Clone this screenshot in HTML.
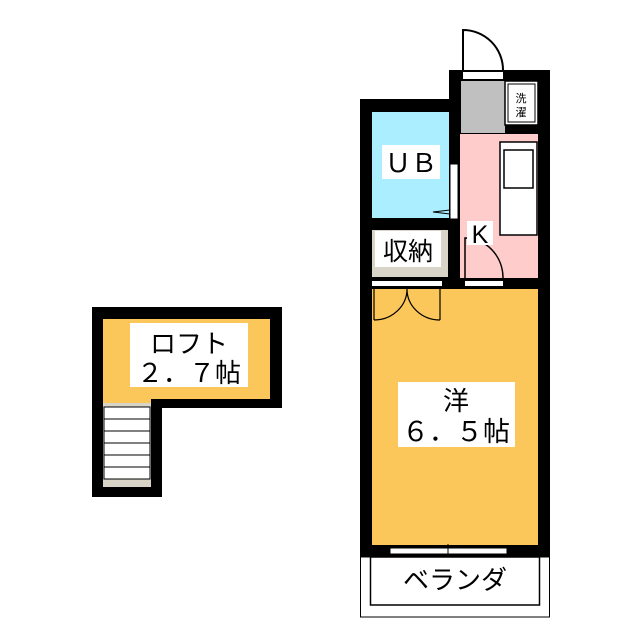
<!DOCTYPE html>
<html><head><meta charset="utf-8"><style>
html,body{margin:0;padding:0;background:#fff;}
svg{display:block}
text{font-family:"Liberation Sans","Noto Sans CJK JP",sans-serif;fill:#000}
</style></head><body>
<svg width="640" height="640" viewBox="0 0 640 640" xmlns="http://www.w3.org/2000/svg">
<!-- Loft -->
<path d="M92 307 H282 V408 H162 V497 H92 Z" fill="#000"/>
<rect x="103" y="319" width="167" height="80" fill="#fcc75a"/>
<rect x="103" y="399" width="48" height="5" fill="#fcc75a"/>
<rect x="103" y="403" width="48" height="84" fill="#d8d4c8"/>
<g fill="#fff" stroke="#000" stroke-width="1">
<rect x="104" y="407" width="46" height="12"/><rect x="104" y="419" width="46" height="12"/>
<rect x="104" y="431" width="46" height="12"/><rect x="104" y="443" width="46" height="12"/>
<rect x="104" y="455" width="46" height="12"/><rect x="104" y="467" width="46" height="12"/>
</g>
<rect x="130" y="323" width="118" height="64" fill="#fff"/>
<text x="189" y="353" font-size="26" text-anchor="middle">ロフト</text>
<text x="189" y="382" font-size="26" text-anchor="middle">２．７帖</text>

<!-- Main walls -->
<rect x="360" y="99" width="100" height="190" fill="#000"/>
<rect x="449" y="70" width="101" height="219" fill="#000"/>
<rect x="360" y="280" width="190" height="277" fill="#000"/>
<!-- door -->
<path d="M463 70 V30 A40 40 0 0 1 503 70" fill="#fff" stroke="#000" stroke-width="2"/>
<rect x="463" y="72" width="40" height="7" fill="#fff"/>
<!-- gray -->
<rect x="461" y="81" width="44" height="52" fill="#c0c0c0"/>
<rect x="505" y="81" width="33" height="44" fill="#fff" stroke="#000" stroke-width="1.5"/>
<rect x="508" y="84" width="27" height="38" fill="#fff" stroke="#000" stroke-width="1"/>
<text x="521" y="102" font-size="11" text-anchor="middle">洗</text>
<text x="521" y="116" font-size="11" text-anchor="middle">濯</text>
<!-- K -->
<rect x="460" y="134" width="78" height="144" fill="#ffcccc"/>
<rect x="500" y="142" width="37" height="93" fill="#fff" stroke="#000" stroke-width="1.5"/>
<rect x="504" y="150" width="29" height="38" fill="#fff" stroke="#000" stroke-width="1.5"/>
<path d="M465 278 V238 A38 40 0 0 1 503 278" fill="none" stroke="#000" stroke-width="1.5"/>
<rect x="467" y="221" width="26" height="24" fill="#fff"/>
<text x="480" y="243" font-size="25" text-anchor="middle">K</text>
<!-- UB -->
<rect x="372" y="112" width="77" height="106" fill="#aaeeff"/>
<rect x="450" y="164" width="8" height="55" fill="#fff" stroke="#000" stroke-width="1"/>
<path d="M450 210 L433 212 L450 214" fill="none" stroke="#000" stroke-width="1"/>
<rect x="382" y="145" width="58" height="34" fill="#fff"/>
<text x="411" y="172" font-size="26" text-anchor="middle">ＵＢ</text>
<!-- 収納 -->
<rect x="372" y="230" width="76" height="47" fill="#d8d4c8"/>
<rect x="375" y="231" width="66" height="36" fill="#fff"/>
<text x="408" y="260" font-size="25" text-anchor="middle">収納</text>
<!-- openings -->
<rect x="372" y="281" width="70" height="5" fill="#fff"/>
<rect x="465" y="281" width="38" height="5" fill="#fff"/>
<!-- Room -->
<rect x="372" y="289" width="166" height="256" fill="#fcc75a"/>
<path d="M374 289 V320 M440 289 V320 M374 320 A33 31 0 0 0 407 289 A33 31 0 0 0 440 320" fill="none" stroke="#000" stroke-width="1.2"/>
<rect x="398" y="382" width="117" height="65" fill="#fff"/>
<text x="456" y="410" font-size="26" text-anchor="middle">洋</text>
<text x="456" y="441" font-size="27" text-anchor="middle">６．５帖</text>
<!-- window -->
<rect x="390" y="548" width="117" height="6" fill="#fff" stroke="#000" stroke-width="1"/>
<line x1="448" y1="544" x2="448" y2="557" stroke="#000" stroke-width="1"/>
<!-- balcony -->
<rect x="360.5" y="557" width="189" height="60" fill="#fff" stroke="#000" stroke-width="1"/>
<rect x="370.5" y="557" width="169" height="48" fill="#fff" stroke="#000" stroke-width="1.5"/>
<text x="455" y="589" font-size="26" text-anchor="middle">ベランダ</text>
</svg>
</body></html>
